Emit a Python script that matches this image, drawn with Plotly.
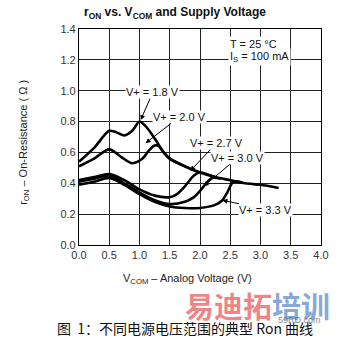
import plotly.graph_objects as go

# ---- data ----
x18 = [0, 0.25, 0.5, 0.62, 0.75, 0.88, 1.0, 1.1, 1.2, 1.3, 1.4, 1.5, 1.75, 2.0, 2.25, 2.5, 2.75, 3.0, 3.3]
y18 = [0.54, 0.63, 0.74, 0.73, 0.71, 0.74, 0.80, 0.77, 0.72, 0.66, 0.60, 0.56, 0.51, 0.47, 0.44, 0.42, 0.40, 0.39, 0.37]

x20 = [0, 0.25, 0.5, 0.7, 0.88, 1.05, 1.15, 1.25, 1.32, 1.4, 1.5, 1.75, 2.0]
y20 = [0.51, 0.56, 0.62, 0.57, 0.53, 0.56, 0.61, 0.645, 0.64, 0.60, 0.56, 0.51, 0.47]

x27 = [0, 0.25, 0.5, 0.75, 1.0, 1.25, 1.5, 1.62, 1.75, 1.9, 2.0, 2.25]
y27 = [0.42, 0.44, 0.46, 0.42, 0.36, 0.32, 0.31, 0.33, 0.38, 0.45, 0.47, 0.44]

x30 = [0, 0.25, 0.5, 0.75, 1.0, 1.25, 1.5, 1.75, 1.9, 2.0, 2.1, 2.2, 2.35]
y30 = [0.41, 0.43, 0.45, 0.40, 0.34, 0.29, 0.265, 0.28, 0.31, 0.35, 0.40, 0.435, 0.43]

x33 = [0, 0.25, 0.5, 0.75, 1.0, 1.25, 1.5, 1.75, 2.0, 2.25, 2.37, 2.45, 2.55, 2.7]
y33 = [0.39, 0.41, 0.435, 0.39, 0.33, 0.28, 0.25, 0.24, 0.24, 0.26, 0.29, 0.34, 0.41, 0.405]

x_ticks = [0.0, 0.5, 1.0, 1.5, 2.0, 2.5, 3.0, 3.5, 4.0]
y_ticks = [0.0, 0.2, 0.4, 0.6, 0.8, 1.0, 1.2, 1.4]

labels = ["V+ = 1.8 V", "V+ = 2.0 V", "V+ = 2.7 V", "V+ = 3.0 V", "V+ = 3.3 V"]
label_pos = [(1.22, 0.99), (1.66, 0.83), (2.27, 0.66), (2.62, 0.565), (3.09, 0.23)]
arrow_head = [(1.02, 0.81), (1.1, 0.66), (1.84, 0.48), (2.06, 0.38), (2.37, 0.29)]

font = "Liberation Sans, Arial, sans-serif"

fig = go.Figure()
for xs, ys in [(x18, y18), (x20, y20), (x27, y27), (x30, y30), (x33, y33)]:
    fig.add_trace(go.Scatter(x=xs, y=ys, mode="lines", line=dict(color="black", width=2.6, shape="spline", smoothing=0.8),
                             showlegend=False, hoverinfo="skip"))

annotations = []
for t, (lx, ly), (hx, hy) in zip(labels, label_pos, arrow_head):
    annotations.append(dict(x=hx, y=hy, ax=lx, ay=ly, xref="x", yref="y", axref="x", ayref="y",
                            text=t, showarrow=True, arrowhead=2, arrowsize=1, arrowwidth=1, arrowcolor="black",
                            standoff=0, font=dict(family=font, size=11, color="#111"), bgcolor="white", borderpad=0))

annotations += [
    dict(x=2.46, y=1.30, xref="x", yref="y", xanchor="left", text="T = 25 °C", showarrow=False,
         font=dict(family=font, size=11, color="#111"), bgcolor="white"),
    dict(x=2.46, y=1.22, xref="x", yref="y", xanchor="left", text="I<sub>S</sub> = 100 mA", showarrow=False,
         font=dict(family=font, size=11, color="#111"), bgcolor="white"),
    dict(x=22, y=142, text="r<sub>ON</sub> – On-Resistance ( Ω )", textangle=-90,
         showarrow=False, font=dict(family=font, size=11, color="#222")),
    dict(x=191, y=279, text="V<sub>COM</sub> – Analog Voltage (V)", showarrow=False,
         font=dict(family=font, size=11, color="#222")),
    dict(x=188, y=328, text="图  1：不同电源电压范围的典型 Ron 曲线", showarrow=False,
         font=dict(family="Noto Sans CJK SC", size=14, color="#111")),
    dict(x=263, y=305, text="<b><span style='color:rgba(230,80,80,0.7)'>易迪拓</span><span style='color:rgba(80,130,200,0.7)'>培训</span></b>",
         showarrow=False, font=dict(family="Noto Sans CJK SC", size=29, color="red")),
    dict(x=307, y=320, text="59RD.com", showarrow=False,
         font=dict(family=font, size=9, color="rgba(110,110,110,0.85)")),
]

# convert pixel-based annotations to paper coords
W, H = 341, 341
L, R, T, B = 79, 12, 29, 96
pw, ph = W - L - R, H - T - B
for a in annotations:
    if a.get("xref") is None:
        px, py = a["x"], a["y"]
        a["xref"], a["yref"] = "paper", "paper"
        a["x"] = (px - L) / pw
        a["y"] = (H - B - py) / ph
        a["xanchor"], a["yanchor"] = "center", "middle"

fig.update_layout(
    width=W, height=H, margin=dict(l=L, r=R, t=T, b=B),
    paper_bgcolor="white", plot_bgcolor="white",
    title=dict(text="<b>r<sub>ON</sub> vs. V<sub>COM</sub> and Supply Voltage</b>", x=175 / W, xanchor="center",
               y=1 - 12 / H, yanchor="middle", font=dict(family=font, size=12, color="#111")),
    annotations=annotations,
    xaxis=dict(range=[0, 4], tickvals=x_ticks, ticktext=[f"{v:.1f}" for v in x_ticks], showgrid=True,
               gridcolor="#222", gridwidth=1, zeroline=False, showline=True, linecolor="black", linewidth=1.2,
               mirror=True, ticks="", tickfont=dict(family=font, size=11, color="#333")),
    yaxis=dict(range=[0, 1.4], tickvals=y_ticks, ticktext=[f"{v:.1f}" for v in y_ticks], showgrid=True,
               gridcolor="#222", gridwidth=1, zeroline=False, showline=True, linecolor="black", linewidth=1.2,
               mirror=True, ticks="", tickfont=dict(family=font, size=11, color="#333")),
)

fig.write_html("out.html")
